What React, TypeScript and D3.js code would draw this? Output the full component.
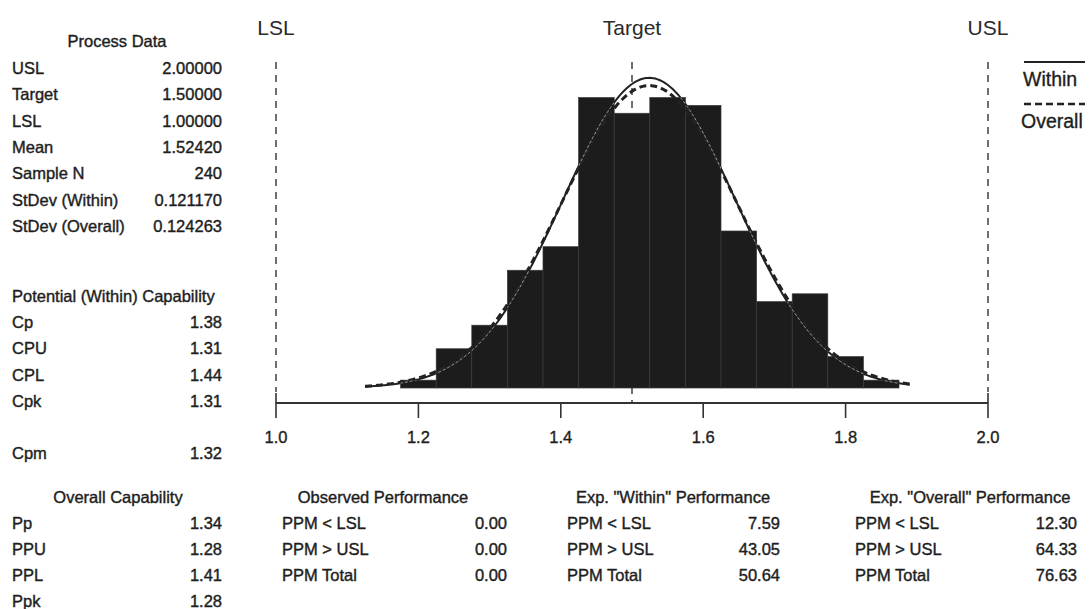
import React from "react";
import * as d3 from "d3";

// ---------- data ----------
const binLower = [1.175, 1.225, 1.275, 1.325, 1.375, 1.425, 1.475, 1.525, 1.575, 1.625, 1.675, 1.725, 1.775, 1.825];
const binCounts = [1, 5, 8, 15, 18, 37, 35, 37, 36, 20, 11, 12, 4, 1];
const binWidth = 0.05;

const USL = 2.0;
const TARGET = 1.5;
const LSL = 1.0;
const MEAN = 1.5242;
const N = 240;
const SD_WITHIN = 0.12117;
const SD_OVERALL = 0.124263;

const xTicks = [1.0, 1.2, 1.4, 1.6, 1.8, 2.0];

const processLabels = ["USL", "Target", "LSL", "Mean", "Sample N", "StDev (Within)", "StDev (Overall)"];
const processValues = ["2.00000", "1.50000", "1.00000", "1.52420", "240", "0.121170", "0.124263"];

const potentialLabels = ["Cp", "CPU", "CPL", "Cpk"];
const potentialValues = ["1.38", "1.31", "1.44", "1.31"];
const cpmLabel = "Cpm";
const cpmValue = "1.32";

const overallLabels = ["Pp", "PPU", "PPL", "Ppk"];
const overallValues = ["1.34", "1.28", "1.41", "1.28"];

const ppmLabels = ["PPM < LSL", "PPM > USL", "PPM Total"];
const observedValues = ["0.00", "0.00", "0.00"];
const expWithinValues = ["7.59", "43.05", "50.64"];
const expOverallValues = ["12.30", "64.33", "76.63"];

// ---------- layout ----------
const W = 1089;
const H = 609;
const FONT = "'Liberation Sans', Arial, sans-serif";
const TXT = "#1e1e1e";

const x = d3.scaleLinear().domain([1.0, 2.0]).range([276, 988]);
const y = d3.scaleLinear().domain([0, 40]).range([388, 74]);

function normalCurve(sd: number) {
  const xs = d3.range(1.125, 1.8901, 0.0025);
  return xs.map((v) => {
    const z = (v - MEAN) / sd;
    const dens = Math.exp(-0.5 * z * z) / (sd * Math.sqrt(2 * Math.PI));
    return [v, dens * N * binWidth] as [number, number];
  });
}

const line = d3
  .line<[number, number]>()
  .x((d) => x(d[0]))
  .y((d) => y(d[1]))
  .curve(d3.curveLinear);

const withinPath = line(normalCurve(SD_WITHIN)) || "";
const overallPath = line(normalCurve(SD_OVERALL)) || "";

function Table({
  title,
  titleX,
  titleY,
  labels,
  values,
  labelX,
  valueX,
  rowY,
  rowGap,
}: {
  title: string;
  titleX: number;
  titleY: number;
  labels: string[];
  values: string[];
  labelX: number;
  valueX: number;
  rowY: number;
  rowGap: number;
}) {
  return (
    <g>
      <text x={titleX} y={titleY} textAnchor="middle" dominantBaseline="central">
        {title}
      </text>
      {labels.map((l, i) => (
        <g key={l + i}>
          <text x={labelX} y={rowY + i * rowGap} dominantBaseline="central">
            {l}
          </text>
          <text x={valueX} y={rowY + i * rowGap} textAnchor="end" dominantBaseline="central">
            {values[i]}
          </text>
        </g>
      ))}
    </g>
  );
}

export default function App() {
  const specLines = [
    { v: LSL, name: "LSL", bottom: 392 },
    { v: TARGET, name: "Target", bottom: 403 },
    { v: USL, name: "USL", bottom: 392 },
  ];
  return (
    <svg
      width={W}
      height={H}
      style={{ position: "absolute", left: 0, top: 0, background: "#fff" }}
      fontFamily={FONT}
      fontSize={16.5}
      fill={TXT}
    >
      <rect x={0} y={0} width={W} height={H} fill="#fff" />
      <defs>
        <clipPath id="barsClip">
          {binLower.map((b, i) => (
            <rect key={i} x={x(b)} y={y(binCounts[i])} width={x(b + binWidth) - x(b)} height={y(0) - y(binCounts[i])} />
          ))}
        </clipPath>
      </defs>

      {/* spec lines */}
      {specLines.map((s) => (
        <g key={s.name}>
          <line x1={x(s.v)} x2={x(s.v)} y1={62} y2={s.bottom} stroke="#333" strokeWidth={1.4} strokeDasharray="7,6" />
          <text x={x(s.v)} y={27} textAnchor="middle" dominantBaseline="central" fontSize={21} fill="#2a2a2a">
            {s.name}
          </text>
        </g>
      ))}

      {/* histogram bars */}
      {binLower.map((b, i) => (
        <rect
          key={i}
          x={x(b)}
          y={y(binCounts[i])}
          width={x(b + binWidth) - x(b)}
          height={y(0) - y(binCounts[i])}
          fill="#1c1c1c"
          stroke="#3a3a3a"
          strokeWidth={0.7}
        />
      ))}

      {/* curves */}
      <path d={overallPath} fill="none" stroke="#222" strokeWidth={3} strokeDasharray="7,4" />
      <path d={withinPath} fill="none" stroke="#222" strokeWidth={2} />
      <g clipPath="url(#barsClip)">
        <path d={withinPath} fill="none" stroke="#9a9a9a" strokeWidth={1} strokeDasharray="3,2" />
      </g>

      {/* axis */}
      <line x1={x(1.0)} x2={x(2.0)} y1={403} y2={403} stroke="#333" strokeWidth={1.8} />
      {xTicks.map((t, i) => {
        const end = i === 0 || i === xTicks.length - 1;
        return (
          <g key={t}>
            <line x1={x(t)} x2={x(t)} y1={end ? 393 : 403} y2={418} stroke="#333" strokeWidth={1.6} />
            <text x={x(t)} y={437} textAnchor="middle" dominantBaseline="central" fontSize={16.5} stroke={TXT} strokeWidth={0.35}>
              {t.toFixed(1)}
            </text>
          </g>
        );
      })}

      {/* legend */}
      <line x1={1024} x2={1085} y1={62} y2={62} stroke="#222" strokeWidth={2} />
      <text x={1023} y={79} dominantBaseline="central" fontSize={19.5} stroke={TXT} strokeWidth={0.35}>Within</text>
      <line x1={1024} x2={1085} y1={104} y2={104} stroke="#222" strokeWidth={2.5} strokeDasharray="7,4" />
      <text x={1021} y={121} dominantBaseline="central" fontSize={19.5} stroke={TXT} strokeWidth={0.35}>Overall</text>

      {/* left panel + tables */}
      <g stroke={TXT} strokeWidth={0.4}>
        <Table
          title="Process Data"
          titleX={117}
          titleY={41}
          labels={processLabels}
          values={processValues}
          labelX={12}
          valueX={222}
          rowY={68}
          rowGap={26.3}
        />
        <text x={12} y={296} dominantBaseline="central">Potential (Within) Capability</text>
        {potentialLabels.map((l, i) => (
          <g key={l}>
            <text x={12} y={322 + i * 26.3} dominantBaseline="central">{l}</text>
            <text x={222} y={322 + i * 26.3} textAnchor="end" dominantBaseline="central">{potentialValues[i]}</text>
          </g>
        ))}
        <text x={12} y={453} dominantBaseline="central">{cpmLabel}</text>
        <text x={222} y={453} textAnchor="end" dominantBaseline="central">{cpmValue}</text>

        <Table
          title="Overall Capability"
          titleX={118}
          titleY={497}
          labels={overallLabels}
          values={overallValues}
          labelX={12}
          valueX={222}
          rowY={523}
          rowGap={26}
        />
        <Table
          title="Observed Performance"
          titleX={383}
          titleY={497}
          labels={ppmLabels}
          values={observedValues}
          labelX={282}
          valueX={507}
          rowY={523}
          rowGap={26}
        />
        <Table
          title={'Exp. "Within" Performance'}
          titleX={673}
          titleY={497}
          labels={ppmLabels}
          values={expWithinValues}
          labelX={567}
          valueX={780}
          rowY={523}
          rowGap={26}
        />
        <Table
          title={'Exp. "Overall" Performance'}
          titleX={970}
          titleY={497}
          labels={ppmLabels}
          values={expOverallValues}
          labelX={855}
          valueX={1077}
          rowY={523}
          rowGap={26}
        />
      </g>
    </svg>
  );
}
